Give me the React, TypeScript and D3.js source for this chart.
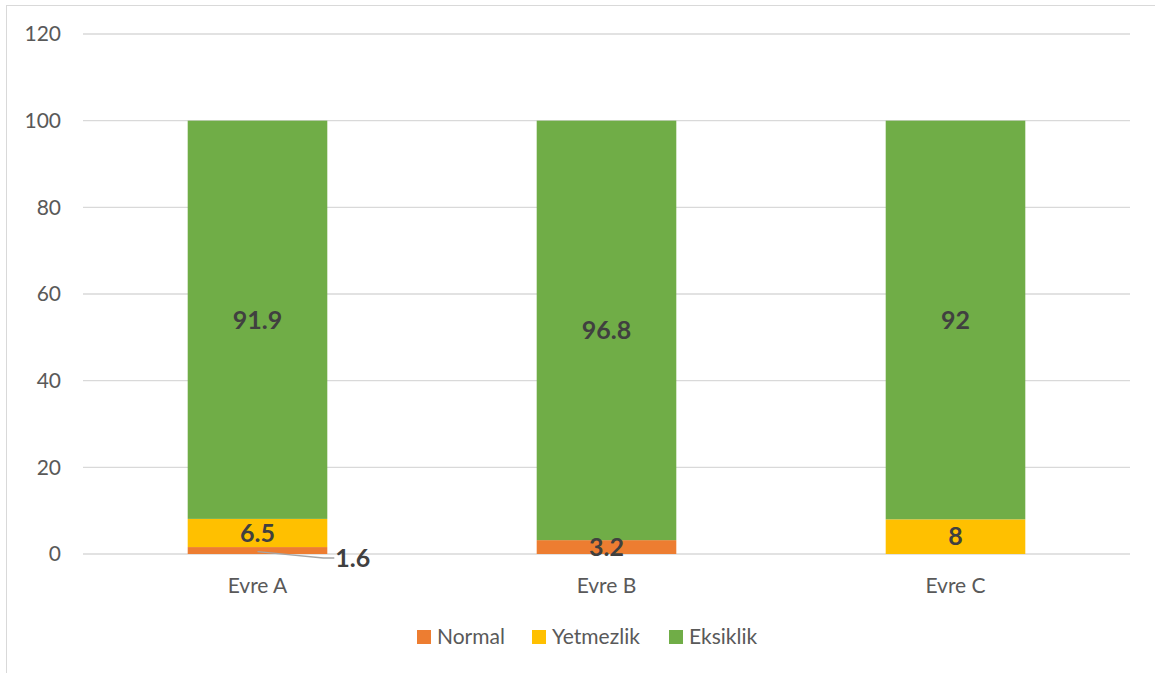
import React from "react";
import * as d3 from "d3";

const categories = ["Evre A", "Evre B", "Evre C"];
const seriesNames = ["Normal", "Yetmezlik", "Eksiklik"];
const normalValues = [1.6, 3.2, 0];
const yetmezlikValues = [6.5, 0, 8];
const eksiklikValues = [91.9, 96.8, 92];
const yTicks = [0, 20, 40, 60, 80, 100, 120];
const colors = ["#ED7D31", "#FFC000", "#70AD47"];

const W = 1155;
const H = 673;
const FONT = "Lato, 'Open Sans', 'Liberation Sans', sans-serif";

export default function App() {
  const x = d3.scaleBand().domain(categories).range([83, 1130]).paddingInner(0.6).paddingOuter(0.3);
  const y = d3.scaleLinear().domain([0, 120]).range([554, 34]);

  const valueTable = [normalValues, yetmezlikValues, eksiklikValues];
  const rows = categories.map((c, i) => ({
    cat: c,
    Normal: normalValues[i],
    Yetmezlik: yetmezlikValues[i],
    Eksiklik: eksiklikValues[i],
  }));
  const stacked = d3.stack<any>().keys(seriesNames)(rows);

  return (
    <svg
      width={W}
      height={H}
      style={{ position: "absolute", left: 0, top: 0, background: "#fff" }}
      fontFamily={FONT}
    >
      <rect x={6.5} y={5.5} width={W + 10} height={H + 10} fill="none" stroke="#d9d9d9" />
      {yTicks.map((t) => (
        <g key={t}>
          <line x1={83} x2={1130} y1={y(t)} y2={y(t)} stroke="#d9d9d9" strokeWidth={1.3} />
          <text x={61} y={y(t)} dy="0.35em" textAnchor="end" fontSize={21} fill="#595959">
            {t}
          </text>
        </g>
      ))}
      {stacked.map((layer, si) =>
        layer.map((d, ci) => {
          const v = d[1] - d[0];
          if (v <= 0) return null;
          const bx = x(categories[ci])!;
          return (
            <rect
              key={`${si}-${ci}`}
              x={bx}
              y={y(d[1])}
              width={x.bandwidth()}
              height={y(d[0]) - y(d[1])}
              fill={colors[si]}
            />
          );
        })
      )}
      {stacked.map((layer, si) =>
        layer.map((d, ci) => {
          const v = valueTable[si][ci];
          if (v <= 0) return null;
          const cx = x(categories[ci])! + x.bandwidth() / 2;
          const cy = y((d[0] + d[1]) / 2);
          if (v < 2) {
            // label too small for its segment: draw it to the right with a leader line
            const lx = x(categories[ci])! + x.bandwidth() + 8;
            const ly = y(0) + 4;
            return (
              <g key={`l-${si}-${ci}`}>
                <polyline
                  points={`${cx},${cy + 1} ${lx - 12},${ly} ${lx - 1},${ly}`}
                  fill="none"
                  stroke="#a6a6a6"
                  strokeWidth={1.3}
                />
                <text x={lx} y={ly} dy="0.35em" fontSize={25} fontWeight="bold" fill="#404040">
                  {v}
                </text>
              </g>
            );
          }
          return (
            <text
              key={`l-${si}-${ci}`}
              x={cx}
              y={cy}
              dy="0.35em"
              textAnchor="middle"
              fontSize={25}
              fontWeight="bold"
              fill="#404040"
            >
              {v}
            </text>
          );
        })
      )}
      {categories.map((c) => (
        <text
          key={c}
          x={x(c)! + x.bandwidth() / 2}
          y={586}
          dy="0.35em"
          textAnchor="middle"
          fontSize={21}
          fill="#595959"
        >
          {c}
        </text>
      ))}
      {(() => {
        const xs = [417, 532, 669];
        return seriesNames.map((n, i) => (
          <g key={n}>
            <rect x={xs[i]} y={630} width={14} height={14} fill={colors[i]} />
            <text x={xs[i] + 20} y={637} dy="0.35em" fontSize={21} fill="#595959">
              {n}
            </text>
          </g>
        ));
      })()}
    </svg>
  );
}
